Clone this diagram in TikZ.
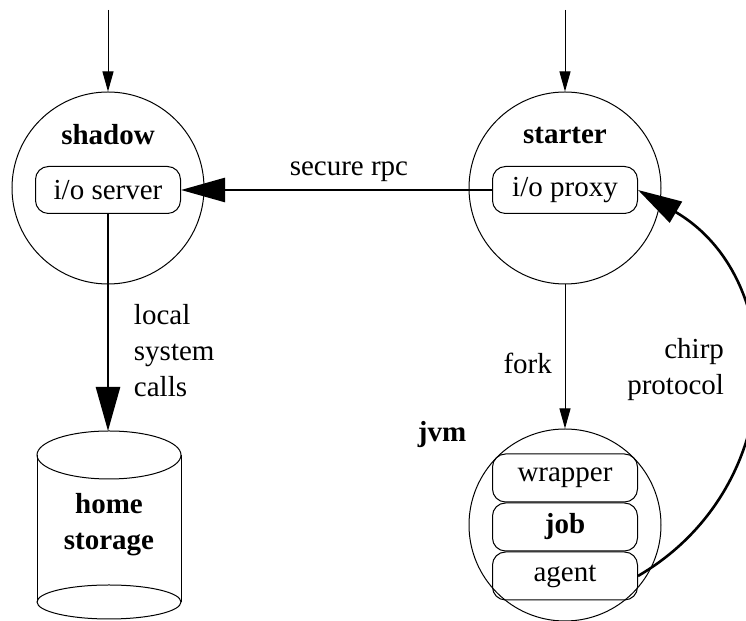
\documentclass[tikz,border=0pt]{standalone}
\usepackage{fontspec}
\setmainfont{Liberation Serif}
\usetikzlibrary{arrows.meta}
\usetikzlibrary{positioning}

\begin{document}
\begin{tikzpicture}[x=0.5pt,y=0.5pt,
        font=\fontsize{14.5}{18}\selectfont,
        proc/.style={draw,circle,line width=0.5pt,minimum size=96pt,inner sep=0pt},
        box/.style={draw,rounded corners=6.5pt,line width=0.5pt,minimum width=72.5pt,minimum height=23.5pt,inner sep=0pt},
        thinarrow/.style={line width=0.5pt,-{Triangle[length=10pt,width=5.5pt]}},
        thickarrow/.style={line width=1.3pt,-{Triangle[length=22pt,width=12pt]}}]
                \useasboundingbox (0,0) rectangle (746,621);

                % processes
                \node[proc] (shadow) at (108,433) {};
                \node[proc] (starter) at (565,433) {};
                \node[proc] (jvm) at (565,96) {};

                \node[font=\fontsize{14.5}{18}\selectfont\bfseries] at (108,486) {shadow};
                \node[font=\fontsize{14.5}{18}\selectfont\bfseries] at (565,486) {starter};
                \node[font=\fontsize{14.5}{18}\selectfont\bfseries] at (442,186) {jvm};

                \node[box] (server) at (108,431) {i/o server};
                \node[box] (proxy) at (565,431) {i/o proxy};

                \node[box,minimum height=24pt] (wrapper) at (565,143) {wrapper};
                \node[box,minimum height=24pt,below=0pt of wrapper,font=\fontsize{14.5}{18}\selectfont\bfseries] (job) {job};
                \node[box,minimum height=24pt,below=0pt of job] (agent) {agent};

                % home storage
                \draw[line width=0.5pt] (37,166) -- (37,19);
                \draw[line width=0.5pt] (181,166) -- (181,19);
                \draw[line width=0.5pt] (109,166) ellipse [x radius=72,y radius=24];
                \draw[line width=0.5pt] (109,19) ellipse [x radius=72,y radius=17];
                \node[align=center,font=\fontsize{14.5}{18}\selectfont\bfseries] (disk) at (109,96) {home\\storage};
                \coordinate (disktop) at (108,190);

                % inputs
                \coordinate (shadowin) at (108,611);
                \coordinate (starterin) at (565,611);
                \draw[thinarrow] (shadowin) -- (shadow);
                \draw[thinarrow] (starterin) -- (starter);

                % connectors
                \draw[thickarrow] (proxy) -- node[pos=0.46,above] {secure rpc} (server);
                \draw[thickarrow] (server) -- node[pos=0.63,right=9pt,align=left] {local\\system\\calls} (disktop);
                \draw[thinarrow] (starter) -- node[pos=0.55,left=3pt] {fork} (jvm);
                \draw[thickarrow] (agent.east) .. controls (790,134) and (790,342) .. (proxy.east);
                \node[align=right,anchor=east] at (731,251) {chirp\\protocol};
            \end{tikzpicture}
\end{document}
